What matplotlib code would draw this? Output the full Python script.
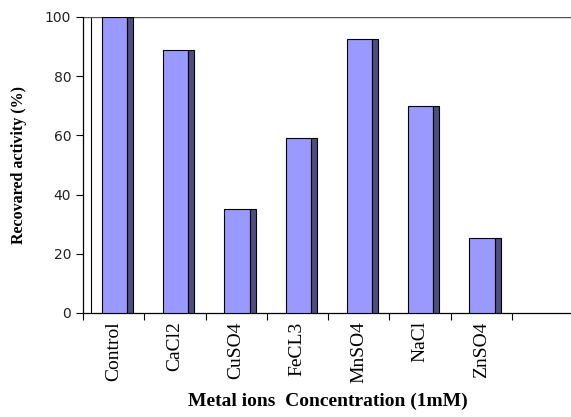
import matplotlib
matplotlib.use('Agg')
import matplotlib.pyplot as plt
import numpy as np

# data
metals = ['Control', 'CaCl2', 'CuSO4', 'FeCL3', 'MnSO4', 'NaCl', 'ZnSO4']
activity = [100, 89, 35, 59, 92.5, 70, 25.5]

fig = plt.figure(figsize=(5.71, 4.17), dpi=100)
ax = fig.add_axes([83/571, 104/417, 490/571, 296/417])

x = np.arange(len(metals))
front_w = 0.41
side_w = 0.10
# front face of each bar, then the dark side face
ax.bar(x + 0.31, activity, width=front_w, align='edge',
       color='#9999ff', edgecolor='black', linewidth=0.8, zorder=3)
ax.bar(x + 0.31 + front_w, activity, width=side_w, align='edge',
       color='#4d4d80', edgecolor='black', linewidth=0.8, zorder=3)

# back wall line of the pseudo-3D chart
ax.axvline(0.13, color='black', linewidth=0.8, zorder=2)
ax.axhline(100, color='#555555', linewidth=1.0, zorder=2)

ax.set_xlim(0, 8)
ax.set_ylim(0, 100)
ax.set_xticks(np.arange(9))
ax.set_xticklabels([])
ax.set_xticks(x + 0.5, minor=True)
ax.set_xticklabels(metals, minor=True, rotation=90, fontsize=14,
                   family='Liberation Serif')
ax.tick_params(axis='x', which='minor', length=0, pad=6)
ax.tick_params(axis='x', which='major', length=5, direction='out')
ax.set_yticks(range(0, 101, 20))
ax.tick_params(axis='y', length=5, labelsize=10, direction='out')
for lab in ax.get_yticklabels():
    lab.set_family('DejaVu Sans')
    lab.set_color('#222222')

for s in ['top', 'right']:
    ax.spines[s].set_visible(False)
ax.spines['left'].set_linewidth(0.9)
ax.spines['bottom'].set_linewidth(0.9)

ax.set_ylabel('Recovared activity (%)', fontsize=11.5, fontweight='bold',
              family='Liberation Serif', labelpad=13)
ax.set_xlabel('Metal ions  Concentration (1mM)', fontsize=14, fontweight='bold',
              family='Liberation Serif', labelpad=7)

fig.savefig('out.png', dpi=100)
